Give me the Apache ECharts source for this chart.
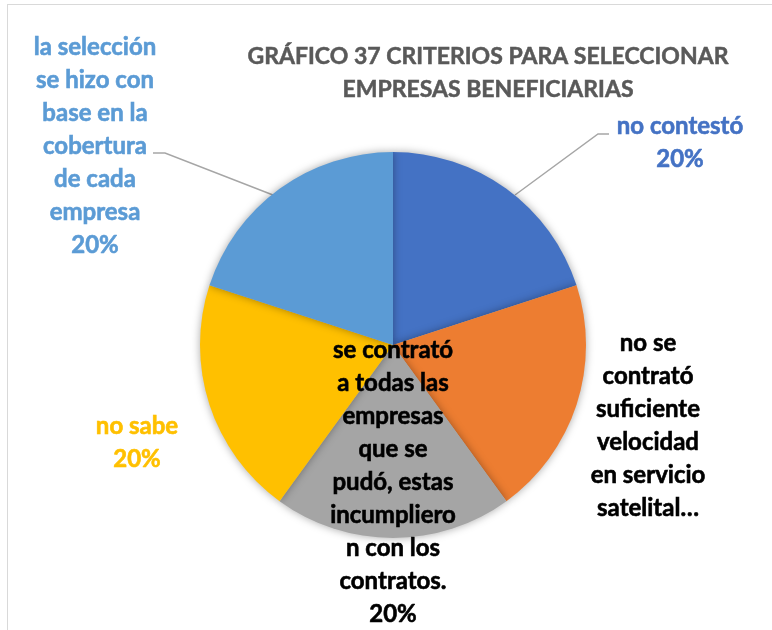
<!DOCTYPE html>
<html>
<head>
<meta charset="utf-8">
<script src="https://cdn.jsdelivr.net/npm/echarts@6/dist/echarts.min.js"></script>
<style>
  body { margin: 0; background: #fff; }
  #wrap { position: relative; width: 772px; height: 630px; overflow: hidden; }
  #frame { position: absolute; left: 7px; top: 4px; width: 800px; height: 700px; border: 1px solid #d9d9d9; box-sizing: border-box; }
  #main { position: absolute; left: 0; top: 0; width: 772px; height: 630px; }
</style>
</head>
<body>
<div id="wrap">
  <div id="frame"></div>
  <div id="main"></div>
</div>
<script>
// datos del gráfico
var categorias = [
  'no contestó',
  'no se contrató suficiente velocidad en servicio satelital',
  'se contrató a todas las empresas que se pudó, estas incumplieron con los contratos.',
  'no sabe',
  'la selección se hizo con base en la cobertura de cada empresa'
];
var valores = [20, 20, 20, 20, 20];
// texto de etiquetas partido como en el original
var etiquetas = [
  'no contestó',
  'no se\ncontrató\nsuficiente\nvelocidad\nen servicio\nsatelital…',
  'se contrató\na todas las\nempresas\nque se\npudó, estas\nincumpliero\nn con los\ncontratos.',
  'no sabe',
  'la selección\nse hizo con\nbase en la\ncobertura\nde cada\nempresa'
];
var mostrarPct = [true, false, true, true, true];
var colores = ['#4472C4', '#ED7D31', '#A5A5A5', '#FFC000', '#5B9BD5'];
var coloresTexto = ['#4472C4', '#000000', '#000000', '#FFC000', '#5B9BD5'];

// posiciones de etiquetas [x centro, y centro]
var posEtiq = [[680, 143], [648, 426], [393, 482], [137, 443], [95, 146]];

var chart = echarts.init(document.getElementById('main'));

var datos = [];
for (var i = 0; i < valores.length; i++) {
  datos.push({
    name: categorias[i],
    value: valores[i],
    itemStyle: { color: colores[i] },
    label: { color: coloresTexto[i], textBorderColor: coloresTexto[i], textBorderWidth: 0.6 },
    labelLine: { show: i === 0 || i === 4 }
  });
}

chart.setOption({
  animation: false,
  title: {
    text: 'GRÁFICO 37 CRITERIOS PARA SELECCIONAR\nEMPRESAS BENEFICIARIAS',
    left: 483,
    top: 35,
    textAlign: 'center',
    textStyle: {
      fontFamily: 'Lato',
      fontWeight: 'bold',
      fontSize: 23,
      lineHeight: 33,
      color: '#595959',
      textBorderColor: '#595959',
      textBorderWidth: 0.5
    }
  },
  series: [
    {
      type: 'pie',
      center: [393, 345],
      radius: 193,
      startAngle: 90,
      clockwise: true,
      data: datos,
      itemStyle: {
        borderWidth: 0,
        shadowBlur: 8,
        shadowColor: 'rgba(0,0,0,0.35)'
      },
      label: {
        show: true,
        position: 'outside',
        fontFamily: 'Lato',
        fontWeight: 'bold',
        fontSize: 24,
        lineHeight: 33,
        align: 'center',
        formatter: function (p) {
          var t = etiquetas[p.dataIndex];
          if (mostrarPct[p.dataIndex]) t += '\n' + Math.round(p.percent) + '%';
          return t;
        }
      },
      labelLine: {
        lineStyle: { color: '#a6a6a6', width: 1.5 }
      },
      labelLayout: function (params) {
        var i = params.dataIndex;
        var res = {
          x: posEtiq[i][0],
          y: posEtiq[i][1],
          align: 'center',
          verticalAlign: 'middle'
        };
        if (i === 0) res.labelLinePoints = [[515, 195], [598, 134], [609, 134]];
        if (i === 4) res.labelLinePoints = [[273, 195], [165, 153], [153, 153]];
        return res;
      }
    }
  ]
});
</script>
</body>
</html>
